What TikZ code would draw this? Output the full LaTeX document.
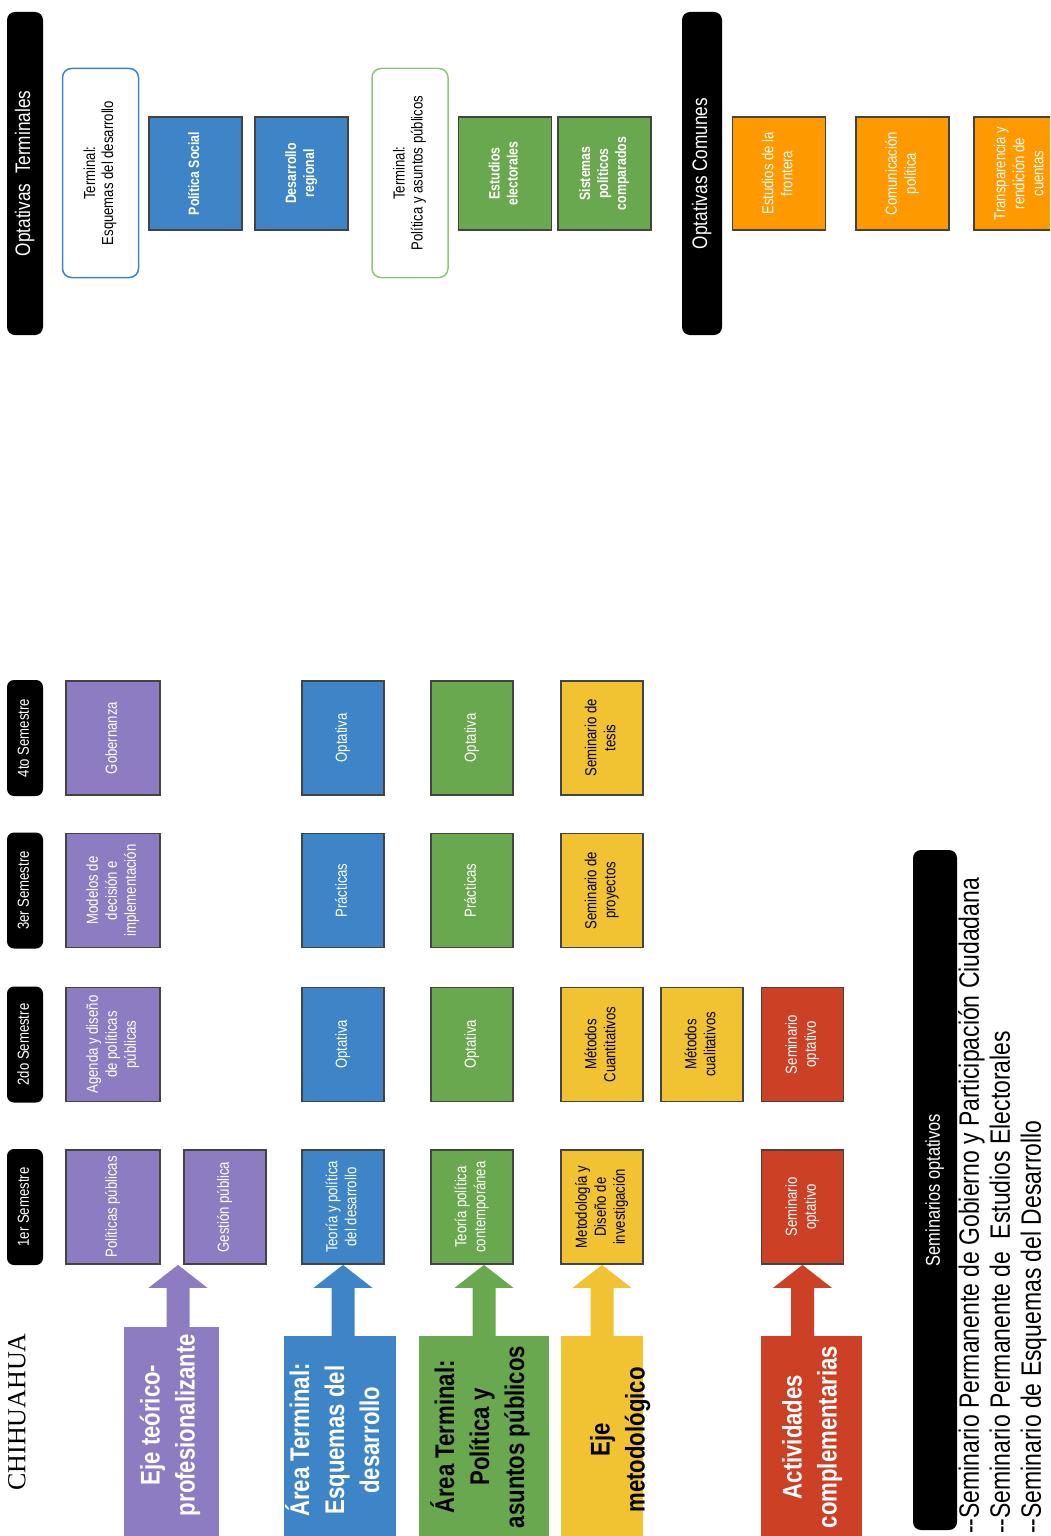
\documentclass[tikz,border=0pt]{standalone}
\usepackage{fontspec}
\usepackage{graphicx}
\setmainfont{Liberation Sans}[FakeStretch=0.82]
\newfontfamily\chifont{Liberation Serif}
\usetikzlibrary{calc}
\definecolor{gpurple}{HTML}{8E7CC3}
\definecolor{gblue}{HTML}{3D85C6}
\definecolor{ggreen}{HTML}{6AA84F}
\definecolor{glgreen}{HTML}{93C47D}
\definecolor{gyellow}{HTML}{F1C232}
\definecolor{gred}{HTML}{CC4125}
\definecolor{gorange}{HTML}{FF9900}
\definecolor{gborder}{HTML}{434343}
\newcommand{\vt}[1]{\rotatebox{90}{\begin{tabular}{@{}c@{}}#1\end{tabular}}}
\newcommand{\vtl}[1]{\rotatebox{90}{\begin{tabular}{@{}l@{}}#1\end{tabular}}}
\newcommand{\bigarrow}[3]{%
  \fill[#1] ($(#2)+(-11.5,0)$) -- ($(#3)+(-11.5,-23)$) -- ($(#3)+(-29.5,-23)$) -- (#3)
    -- ($(#3)+(29.5,-23)$) -- ($(#3)+(11.5,-23)$) -- ($(#2)+(11.5,0)$) -- cycle;}
\begin{document}
\begin{tikzpicture}[x=1pt,y=1pt,
  sem/.style={fill=black, rounded corners=7pt, text=white, minimum width=36pt, minimum height=116pt, inner sep=0pt, font=\fontsize{16}{19}\selectfont},
  hdr/.style={fill=black, rounded corners=8pt, text=white, inner sep=0pt, font=\fontsize{21}{25}\selectfont},
  cbox/.style={draw=gborder, line width=1.8pt, inner sep=0pt, minimum width=82pt, minimum height=114pt, font=\fontsize{16}{19}\selectfont},
  pbox/.style={cbox, fill=gpurple, text=white, minimum width=94pt},
  bbox/.style={cbox, fill=gblue, text=white},
  grbox/.style={cbox, fill=ggreen, text=white},
  ybox/.style={cbox, fill=gyellow, text=black},
  rbox/.style={cbox, fill=gred, text=white},
  optbox/.style={cbox, minimum width=93pt, minimum height=113pt},
  term/.style={fill=white, rounded corners=9pt, line width=1.5pt, inner sep=0pt, minimum width=76pt, minimum height=209pt, font=\fontsize{16}{18}\selectfont},
  axisrect/.style={inner sep=0pt, anchor=north, minimum height=215pt},
  axlbl/.style={inner sep=0pt, font=\bfseries\fontsize{27}{35}\selectfont}]
\useasboundingbox (0,0) rectangle (1050,-1536);
\clip (0,0) rectangle (1050,-1536);
\fill[white] (0,0) rectangle (1050,-1536);

% ---------- top: optativas ----------
\node[hdr, minimum width=36pt, minimum height=323pt] (ot) at (25,-173.5) {\vt{Optativas\ \ Terminales}};
\node[term, draw=gblue] (tesq) at (100.5,-173) {\vt{Terminal:\\Esquemas del desarrollo}};
\node[optbox, fill=gblue, text=white, font=\bfseries\fontsize{15}{18}\selectfont] (ps) at (195.5,-173.5) {\vt{Política Social}};
\node[optbox, fill=gblue, text=white, font=\bfseries\fontsize{15}{18}\selectfont] (dr) at (301.5,-173.5) {\vt{Desarrollo\\regional}};
\node[term, draw=glgreen] (tpol) at (410,-173) {\vt{Terminal:\\Política y asuntos públicos}};
\node[optbox, fill=ggreen, text=white, font=\bfseries\fontsize{15}{18}\selectfont] (ee) at (505,-173.5) {\vt{Estudios\\electorales}};
\node[optbox, fill=ggreen, text=white, font=\bfseries\fontsize{15}{18}\selectfont] (spc) at (604.5,-173.5) {\vt{Sistemas\\políticos\\comparados}};
\node[hdr, minimum width=40pt, minimum height=323pt] (oc) at (702,-173.5) {\vt{Optativas Comunes}};
\node[optbox, fill=gorange, text=white] (ef) at (779,-173.5) {\vt{Estudios de la\\frontera}};
\node[optbox, fill=gorange, text=white] (cp) at (902.5,-173.5) {\vt{Comunicación\\política}};
\node[optbox, fill=gorange, text=white] (trc) at (1020.5,-173.5) {\vt{Transparencia y\\rendición de\\cuentas}};

% ---------- semesters ----------
\node[sem] (s1) at (25,-1207) {\vt{1er Semestre}};
\node[sem] (s2) at (25,-1044.5) {\vt{2do Semestre}};
\node[sem] (s3) at (25,-890.5) {\vt{3er Semestre}};
\node[sem] (s4) at (25,-738) {\vt{4to Semestre}};

% purple column
\node[pbox] (pp) at (113,-1207) {\vt{Políticas públicas}};
\node[pbox, minimum width=82pt] (gp) at (225,-1207) {\vt{Gestión pública}};
\node[pbox] (adp) at (113,-1044.5) {\vt{Agenda y diseño\\de políticas\\públicas}};
\node[pbox] (mdi) at (113,-890.5) {\vt{Modelos de\\decisión e\\implementación}};
\node[pbox] (gob) at (113,-738) {\vt{Gobernanza}};

% blue column
\node[bbox] (tpd) at (343,-1207) {\vt{Teoría y política\\del desarrollo}};
\node[bbox] (bo2) at (343,-1044.5) {\vt{Optativa}};
\node[bbox] (bp3) at (343,-890.5) {\vt{Prácticas}};
\node[bbox] (bo4) at (343,-738) {\vt{Optativa}};

% green column
\node[grbox] (tpc) at (472,-1207) {\vt{Teoría política\\contemporánea}};
\node[grbox] (go2) at (472,-1044.5) {\vt{Optativa}};
\node[grbox] (gp3) at (472,-890.5) {\vt{Prácticas}};
\node[grbox] (go4) at (472,-738) {\vt{Optativa}};

% yellow columns
\node[ybox] (mdin) at (602,-1207) {\vt{Metodología y\\Diseño de\\investigación}};
\node[ybox] (mcu) at (602,-1044.5) {\vt{Métodos\\Cuantitativos}};
\node[ybox] (spr) at (602,-890.5) {\vt{Seminario de\\proyectos}};
\node[ybox] (ste) at (602,-738) {\vt{Seminario de\\tesis}};
\node[ybox] (mcl) at (702,-1044.5) {\vt{Métodos\\cualitativos}};

% red column
\node[rbox] (so1) at (802.5,-1207) {\vt{Seminario\\optativo}};
\node[rbox] (so2) at (802.5,-1044.5) {\vt{Seminario\\optativo}};

% ---------- axes ----------
\node[axisrect, fill=gpurple, minimum width=95pt] (axP) at (171.5,-1327) {};
\node[axisrect, fill=gblue, minimum width=112pt] (axB) at (340,-1336) {};
\node[axisrect, fill=ggreen, minimum width=130pt] (axG) at (484,-1336) {};
\node[axisrect, fill=gyellow, minimum width=82pt] (axY) at (602,-1336) {};
\node[axisrect, fill=gred, minimum width=101pt] (axR) at (811.5,-1336) {};

\coordinate (tP) at ($(pp.south east)!0.5!(gp.south west)+(6,0)$);
\coordinate (tB) at (tpd.south);
\coordinate (tG) at ($(tpc.south)+(12,0)$);
\coordinate (tY) at (mdin.south);
\coordinate (tR) at (so1.south);
\coordinate (bP) at (tP |- axP.north);
\coordinate (bB) at (tB |- axB.north);
\coordinate (bG) at (tG |- axG.north);
\coordinate (bY) at (tY |- axY.north);
\coordinate (bR) at (tR |- axR.north);
\bigarrow{gpurple}{bP}{tP}
\bigarrow{gblue}{bB}{tB}
\bigarrow{ggreen}{bG}{tG}
\bigarrow{gyellow}{bY}{tY}
\bigarrow{gred}{bR}{tR}

\node[axlbl, text=white] (lP) at (170,-1425) {\vt{Eje teórico-\\profesionalizante}};
\node[axlbl, text=white] (lB) at (337,-1440) {\vt{Área Terminal:\\Esquemas del\\desarrollo}};
\node[axlbl, text=black] (lG) at (482,-1437) {\vt{Área Terminal:\\Política y\\asuntos públicos}};
\node[axlbl, text=black] (lY) at (620,-1440) {\vt{Eje\\metodológico}};
\node[axlbl, text=white] (lR) at (812,-1437) {\vt{Actividades\\complementarias}};

% ---------- seminarios ----------
\node[hdr, minimum width=44pt, minimum height=680pt, font=\fontsize{20}{24}\selectfont] (semop) at (935,-1190) {\vt{Seminarios optativos}};
\node[anchor=south west, inner sep=0pt, font=\fontsize{28}{31}\selectfont] (lst) at (957,-1534)
  {\vtl{-{}-Seminario Permanente de Gobierno y Participación Ciudadana\\-{}-Seminario Permanente de\ \ Estudios Electorales\\-{}-Seminario de Esquemas del Desarrollo}};

% ---------- logo text ----------
\node[inner sep=0pt, font=\chifont\fontsize{26}{30}\selectfont] (chi) at (17,-1412) {\rotatebox{90}{CHIHUAHUA}};
\end{tikzpicture}
\end{document}
